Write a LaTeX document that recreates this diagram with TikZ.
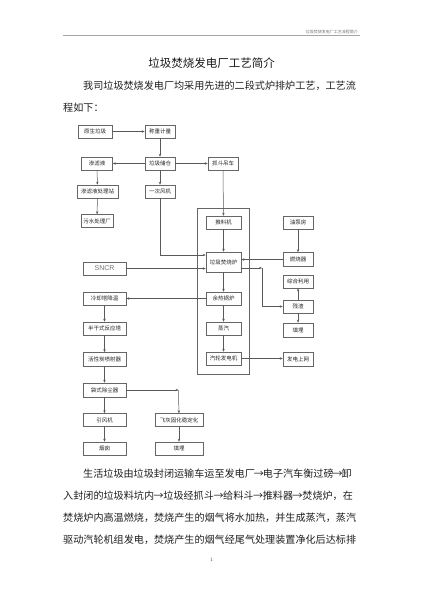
\documentclass[tikz,border=0pt]{standalone}
\usepackage{fontspec}
\newfontfamily\cjk{Noto Sans CJK SC}
\usetikzlibrary{arrows.meta}
\newcommand{\rarr}[1]{\makebox[#1][c]{→}}
\begin{document}
\begin{tikzpicture}[x=1pt,y=-1pt,
  box/.style={draw=black!60, line width=0.5pt, inner sep=0pt, minimum height=13pt,
    font=\cjk\fontsize{5.5}{6}\selectfont, text=black!85},
  ln/.style={draw=black!65, line width=0.5pt},
  arr/.style={ln, -{Stealth[length=3pt,width=2.4pt]}},
  para/.style={anchor=west, inner sep=0pt, font=\cjk\fontsize{10.1}{12}\selectfont, text=black!88}]
\useasboundingbox[fill=white] (0,0) rectangle (423,600);
% header
\draw[black!35, line width=0.6pt] (63,35) -- (360,35);
\node[anchor=base east, inner sep=0pt, font=\cjk\fontsize{4}{5}\selectfont, text=black!55] (hdr) at (358,33.6) {垃圾焚烧发电厂工艺流程简介};
\node[inner sep=0pt, font=\cjk\fontsize{11.5}{13}\selectfont, text=black!90] (title) at (211.5,63) {垃圾焚烧发电厂工艺简介};
\node[para] (p1) at (83,86) {我司垃圾焚烧发电厂均采用先进的二段式炉排炉工艺，工艺流};
\node[para] (p2) at (63,108) {程如下：};
% group box
\node[draw=black!60, line width=0.5pt, minimum width=52pt, minimum height=166pt, inner sep=0pt] (grp) at (223,291) {};
% boxes
\node[box, minimum width=34pt] (n1) at (95,131.5) {原生垃圾};
\node[box, minimum width=30pt] (n2) at (160,131.5) {称重计量};
\node[box, minimum width=31pt] (n3) at (97,163.5) {渗滤液};
\node[box, minimum width=30pt] (n4) at (160,163.5) {垃圾储仓};
\node[box, minimum width=30pt] (n5) at (223,163.5) {抓斗吊车};
\node[box, minimum width=41pt] (n6) at (97.5,191.5) {渗滤液处理站};
\node[box, minimum width=30pt] (n7) at (160,191.5) {一次风机};
\node[box, minimum width=32pt] (n8) at (97,221) {污水处理厂};
\node[box, minimum width=35pt] (n9) at (223.5,222.5) {推料机};
\node[box, minimum width=30pt] (n10) at (298,222.5) {油泵房};
\node[box, minimum width=35pt, minimum height=20pt] (n11) at (223.5,262) {垃圾焚烧炉};
\node[box, minimum width=30pt, minimum height=14pt] (n12) at (298,259.5) {燃烧器};
\node[box, minimum width=43pt, font=\fontspec{Liberation Sans}\fontsize{7}{8}\selectfont, text=black!55] (n13) at (104.5,268.5) {SNCR};
\node[box, minimum width=30pt] (n14) at (298,281.5) {综合利用};
\node[box, minimum width=35pt] (n15) at (223.5,298.5) {余热锅炉};
\node[box, minimum width=30pt] (n16) at (298,306.5) {残渣};
\node[box, minimum width=43pt] (n17) at (104.5,298.5) {冷却塔降温};
\node[box, minimum width=35pt] (n18) at (223.5,328.5) {蒸汽};
\node[box, minimum width=30pt, minimum height=14pt] (n19) at (298,330) {填埋};
\node[box, minimum width=43pt] (n20) at (104.5,328.5) {半干式反应塔};
\node[box, minimum width=35pt] (n21) at (223.5,358.5) {汽轮发电机};
\node[box, minimum width=30pt, minimum height=14pt] (n22) at (298,359) {发电上网};
\node[box, minimum width=43pt, minimum height=14pt] (n23) at (104.5,359.5) {活性炭喷射器};
\node[box, minimum width=43pt, minimum height=14pt] (n24) at (104.5,390) {袋式除尘器};
\node[box, minimum width=43pt] (n25) at (104.5,420) {引风机};
\node[box, minimum width=48pt] (n26) at (179,420) {飞灰固化稳定化};
\node[box, minimum width=43pt] (n27) at (104.5,448.5) {烟囱};
\node[box, minimum width=48pt] (n28) at (179,448.5) {填埋};
\coordinate (c1) at (262,268);
\coordinate (c2) at (178.5,390);
% connectors
\draw[arr] (n1) -- (n2);
\draw[arr] (n2) -- (n4);
\draw[arr] (n4) -- (n3);
\draw[arr] (n4) -- (n5);
\draw[arr] (n4) -- (n7);
\draw[arr] (n3) -- (n6);
\draw[arr] (n6) -- (n8);
\draw[arr] (n5) -- (n9);
\draw[arr] (n7.south) |- ([yshift=7pt]n11.west);
\draw[arr] (n13.east) -- (n13.east -| n11.west);
\draw[arr] (n9) -- (n11);
\draw[arr] (n10) -- (n12);
\draw[arr] (n12.west) -- (n12.west -| n11.east);
\draw[arr] (c1 -| n11.east) -- (c1);
\draw[arr] (c1) |- (n16.west);
\draw[arr] (n16) -- (n14);
\draw[arr] (n16) -- (n19);
\draw[arr] (n11) -- (n15);
\draw[arr] (n15) -- (n18);
\draw[arr] (n18) -- (n21);
\draw[arr] (n21.east) -- (n21.east -| n22.west);
\draw[arr] (n15) -- (n17);
\draw[arr] (n17) -- (n20);
\draw[arr] (n20) -- (n23);
\draw[arr] (n23) -- (n24);
\draw[arr] (n24) -- (n25);
\draw[arr] (n25) -- (n27);
\draw[arr] (n24.east) -- (c2);
\draw[arr] (c2) -- (n26);
\draw[arr] (n26) -- (n28);
% bottom text
\node[para] (p3) at (83,474) {生活垃圾由垃圾封闭运输车运至发电厂\rarr{8pt}电子汽车衡过磅\rarr{8pt}卸};
\node[para] (p4) at (63,496) {入封闭的垃圾料坑内\rarr{9.3pt}垃圾经抓斗\rarr{9.3pt}给料斗\rarr{9.3pt}推料器\rarr{9.3pt}焚烧炉，在};
\node[para] (p5) at (63,518) {焚烧炉内高温燃烧，焚烧产生的烟气将水加热，并生成蒸汽，蒸汽};
\node[para] (p6) at (63,540) {驱动汽轮机组发电，焚烧产生的烟气经尾气处理装置净化后达标排};
\node[inner sep=0pt, font=\fontsize{5}{6}\selectfont, text=black!70] (pg) at (211.5,560) {1};
\end{tikzpicture}
\end{document}
